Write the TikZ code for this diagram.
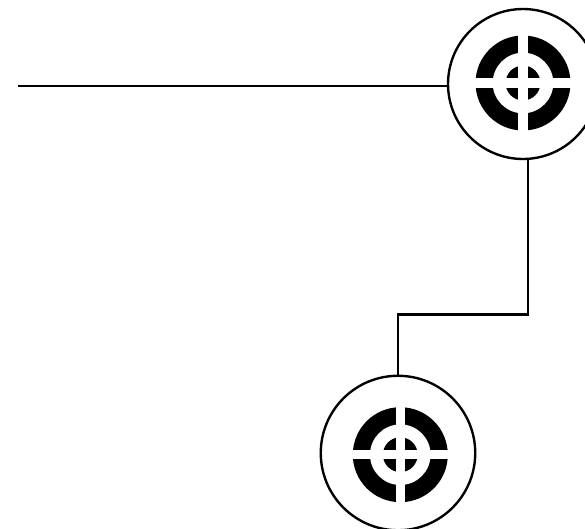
\documentclass[tikz,border=0pt]{standalone}
\usepackage{xcolor}
\usepackage{tikz}

\begin{document}
\begin{tikzpicture}[x=0.02cm,y=-0.02cm,line width=1.35pt,
      ring/.style={circle,draw,fill=none,inner sep=0pt,outer sep=0pt},
      target/.pic={
        \fill[black] (0,0) circle (47.5);
        \fill[white] (0,0) circle (30.3);
        \fill[black] (0,0) circle (17.4);
        \fill[white] (-50,-4.6) rectangle (50,4.6);
        \fill[white] (-4.6,-50) rectangle (4.6,50);
      }]
      \clip (0,0) rectangle (585,528);
      \node[ring,minimum size=3.0cm] (TopRing) at (523,84) {};
      \node[ring,minimum size=3.09cm] (BottomRing) at (398,453) {};
      \pic at (523,83) {target};
      \pic at (400.3,454.7) {target};
      \coordinate (LineStart) at (18,85.7);
      \coordinate (Bend) at (398,314.5);
      \draw (LineStart) -- (LineStart -| TopRing.west);
      \draw (TopRing.-86.5) |- (Bend) -- (BottomRing.north);
      % \noindent
\end{tikzpicture}
\end{document}
